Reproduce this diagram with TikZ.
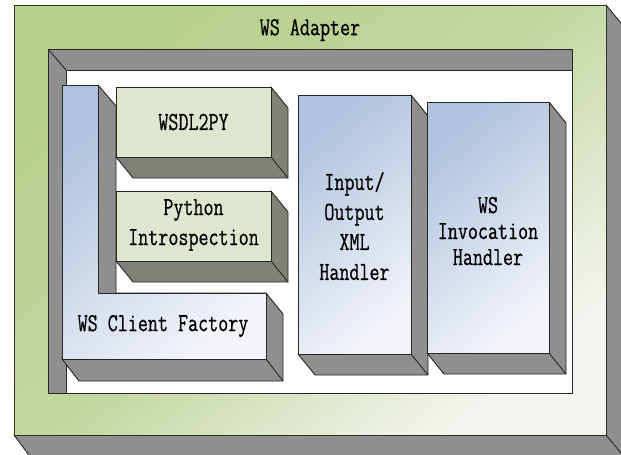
\documentclass[tikz,border=0pt]{standalone}
\usepackage{fontspec}
\newfontfamily\lblfont[FakeStretch=0.75,FakeBold=0.5]{Latin Modern Mono}
\definecolor{adgreen}{HTML}{B7CF8C}
\definecolor{adwhite}{HTML}{F3F5EE}
\definecolor{boxblue}{HTML}{AFC3DE}
\definecolor{boxwhite}{HTML}{F2F4F9}
\definecolor{pgreen}{HTML}{DFE6CF}
\definecolor{shadegray}{HTML}{8F8F8F}
\definecolor{olivegray}{HTML}{7F8377}
\definecolor{edgecol}{HTML}{262626}
\tikzset{
  edge/.style={draw=edgecol, line width=0.9pt, line join=round},
  bluefront/.style={top color=boxblue, bottom color=boxwhite, shading angle=40},
  greenfront/.style={fill=pgreen},
  lbl/.style={font=\lblfont\fontsize{26}{30}\selectfont, align=center, text=black, inner sep=0pt},
}
% 3D box: x1,y1,x2,y2, front style, shadow colour
\newcommand\extbox[6]{%
  \path[fill=#6, edge] (#3,#2) -- ({#3+17},{#2+21}) -- ({#3+17},{#4+21}) -- ({#1+17},{#4+21}) -- (#1,#4) -- cycle;
  \path[#5, edge] (#1,#2) rectangle (#3,#4);
  \draw[edge] (#3,#4) -- ({#3+17},{#4+21});
}
\begin{document}
\begin{tikzpicture}[x=1pt,y=-1pt]
\useasboundingbox (0,0) rectangle (621,455);
\clip (0,0) rectangle (621,455);
% outer adapter box
\path[fill=shadegray, draw=edgecol, line width=0.9pt] (606,5) -- (630,34) -- (630,470) -- (40,470) -- (14,435) -- cycle;
\path[top color=adgreen, bottom color=adwhite, middle color=adgreen!80!adwhite, shading angle=40, draw=black!75!adgreen, line width=0.9pt] (14,5) rectangle (606,435);
\draw[edge] (606,435) -- (630,464);
\node[lbl] (adapter) at (310,30) {WS Adapter};
% inner recess
\path[fill=white] (48,49) rectangle (572,393);
\path[fill=shadegray] (48,49) -- (572,49) -- (572,70) -- (66,70) -- (66,393) -- (48,393) -- cycle;
\draw[edge] (48,49) rectangle (572,393);
\draw[edge] (66,393) -- (66,70) -- (572,70);
\draw[edge] (48,49) -- (66,70);
% L-shaped client factory
\path[fill=shadegray, edge] (98,85) -- (116,106) -- (116,293) -- (266,293) -- (283,314) -- (283,381) -- (79,381) -- (62,359) -- cycle;
\path[bluefront, edge] (62,85) -- (98,85) -- (98,293) -- (266,293) -- (266,359) -- (62,359) -- cycle;
\draw[edge] (266,359) -- (283,381);
\node[lbl] (factory) at (163,326) {WS Client Factory};
% WSDL2PY
\extbox{116}{87}{271}{157}{greenfront}{olivegray}
\node[lbl] (wsdl) at (193.5,122) {WSDL2PY};
% Python introspection
\extbox{116}{191}{271}{261}{greenfront}{olivegray}
\node[lbl] (intro) at (193.5,225) {Python\\Introspection};
% XML handler
\extbox{298}{95}{411}{354}{bluefront}{shadegray}
\node[lbl] (xml) at (354.5,226) {Input/\\Output\\XML\\Handler};
% Invocation handler
\extbox{427}{102}{549}{353}{bluefront}{shadegray}
\node[lbl, font=\lblfont\fontsize{26}{26}\selectfont] (invoc) at (488,231) {WS\\Invocation\\Handler};
\end{tikzpicture}
\end{document}
